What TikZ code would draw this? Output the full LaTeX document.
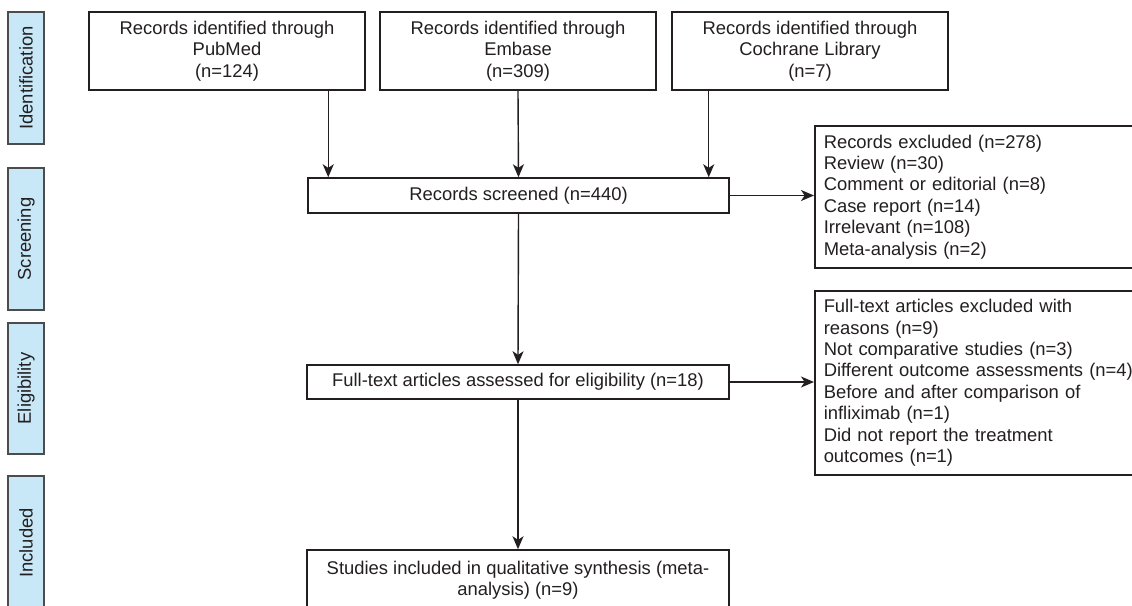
\documentclass[tikz,border=0pt]{standalone}
\usepackage{fontspec}
\setmainfont{Liberation Sans}
\usepackage{xcolor}
\usepackage{tikz}
\usetikzlibrary{arrows.meta,positioning}
\definecolor{labelblue}{RGB}{200,231,247}
\definecolor{inkgray}{RGB}{35,31,32}
\newcommand{\boxfont}{\fontsize{9.2}{10.7}\selectfont}

\begin{document}
\begin{tikzpicture}[
    x=0.5pt, y=-0.5pt,
    nosep/.style={inner sep=0},
    flowbox/.style={draw=inkgray, line width=0.75pt, fill=white, text=inkgray, nosep, align=center, font=\boxfont},
    notebox/.style={flowbox, anchor=north west, align=left, inner xsep=4.5pt, text width=160pt},
    stage/.style={draw=black!70, line width=0.75pt, fill=labelblue, text=inkgray, nosep, rotate=90, minimum height=18pt, font=\boxfont},
    flow/.style={draw=inkgray, line width=0.7pt, -{Stealth[length=6.5pt, width=5.5pt, inset=1.8pt]}}]
\useasboundingbox (0,0) rectangle (1132,606);
\clip (0,0) rectangle (1132,606);

\node[stage, minimum width=66pt]   (stgid)  at (26,78)    {Identification};
\node[stage, minimum width=71pt]   (stgscr) at (26,239)   {Screening};
\node[stage, minimum width=65.5pt] (stgel)  at (26,388.5) {Eligibility};
\node[stage, minimum width=67pt]   (stginc) at (26,543)   {Included};

\node[flowbox, minimum width=138pt, minimum height=39pt] (pubmed)   at (227,51) {Records identified through\\PubMed\\(n=124)};
\node[flowbox, minimum width=138pt, minimum height=39pt] (embase)   at (518,51) {Records identified through\\Embase\\(n=309)};
\node[flowbox, minimum width=138pt, minimum height=39pt] (cochrane) at (810,51) {Records identified through\\Cochrane Library\\(n=7)};

\node[flowbox, minimum width=210.5pt, minimum height=17.5pt] (screened) at (518.5,195.5) {Records screened (n=440)};
\node[flowbox, minimum width=211pt, minimum height=17pt]     (fulltext) at (518,382) {Full-text articles assessed for eligibility (n=18)};
\node[flowbox, minimum width=211pt, minimum height=30pt]     (included) at (518,580) {Studies included in qualitative synthesis (meta-\\analysis) (n=9)};

\node[notebox, minimum height=71pt] (excluded) at (814,125) {Records excluded (n=278)\\Review (n=30)\\Comment or editorial (n=8)\\Case report (n=14)\\Irrelevant (n=108)\\Meta-analysis (n=2)};
\node[notebox, minimum height=92pt] (ftexcl) at (814,290) {Full-text articles excluded with\\reasons (n=9)\\Not comparative studies (n=3)\\Different outcome assessments (n=4)\\Before and after comparison of\\infliximab (n=1)\\Did not report the treatment\\outcomes (n=1)};

\coordinate (inleft)  at ([xshift=10.5pt]screened.north west);
\coordinate (inright) at ([xshift=-10.5pt]screened.north east);

\path[flow] (inleft |- pubmed.south)    -- (inleft);
\path[flow] (embase.south)              -- (screened.north);
\path[flow] (inright |- cochrane.south) -- (inright);
\path[flow] (screened.south)            -- (fulltext.north);
\path[flow] (fulltext.south)            -- (included.north);
\path[flow] (screened.east)             -- (screened.east -| excluded.west);
\path[flow] (fulltext.east)             -- (fulltext.east -| ftexcl.west);

\end{tikzpicture}
\end{document}
